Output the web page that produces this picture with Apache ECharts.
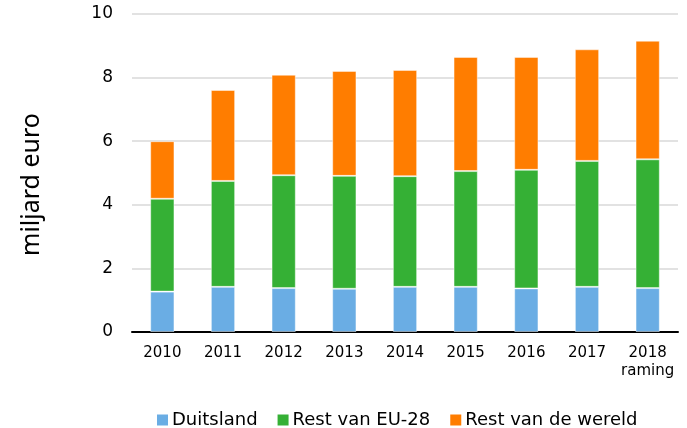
<!DOCTYPE html>
<html>
<head>
<meta charset="utf-8">
<script src="https://cdn.jsdelivr.net/npm/echarts@6/dist/echarts.min.js"></script>
<style>
  html, body { margin: 0; padding: 0; background: #fff; }
  #chart { width: 687px; height: 428px; }
</style>
</head>
<body>
<div id="chart"></div>
<script>
var categories = ['2010', '2011', '2012', '2013', '2014', '2015', '2016', '2017', '2018\nraming'];
var duitsland = [1.27, 1.42, 1.38, 1.36, 1.42, 1.42, 1.37, 1.42, 1.38];
var restEU = [2.92, 3.33, 3.55, 3.55, 3.48, 3.64, 3.73, 3.96, 4.05];
var restWereld = [1.81, 2.86, 3.16, 3.30, 3.34, 3.59, 3.55, 3.51, 3.73];
var yTicks = [0, 2, 4, 6, 8, 10];

var colors = ['#6aade4', '#35b035', '#ff7d00'];
var font = 'DejaVu Sans';

function barSeries(name, data) {
  return {
    name: name,
    type: 'bar',
    stack: 'totaal',
    barWidth: '40%',
    data: data,
    itemStyle: { borderColor: 'rgba(255,255,255,0.45)', borderWidth: 1 }
  };
}

var chart = echarts.init(document.getElementById('chart'));
chart.setOption({
  animation: false,
  color: colors,
  textStyle: { fontFamily: font },
  grid: { left: 132, right: 9, top: 14, bottom: 96 },
  legend: {
    left: 152,
    top: 406,
    itemWidth: 11,
    itemHeight: 11,
    itemGap: 20,
    itemStyle: { borderWidth: 0 },
    icon: 'rect',
    textStyle: { fontFamily: font, fontSize: 18, color: '#000', padding: [0, 0, 0, -1] },
    data: ['Duitsland', 'Rest van EU-28', 'Rest van de wereld']
  },
  xAxis: {
    type: 'category',
    data: categories,
    axisLine: { lineStyle: { color: '#000', width: 2 } },
    axisTick: { show: false },
    axisLabel: { interval: 0, color: '#000', fontSize: 15, lineHeight: 18, margin: 12, fontFamily: font }
  },
  yAxis: {
    type: 'value',
    min: yTicks[0],
    max: yTicks[yTicks.length - 1],
    interval: 2,
    name: 'miljard euro',
    nameLocation: 'middle',
    nameGap: 88,
    nameTextStyle: { fontFamily: 'Noto Sans', fontSize: 25, color: '#000', padding: [0, 23, 0, 0] },
    axisLine: { show: false },
    axisTick: { show: false },
    axisLabel: { color: '#000', fontSize: 17, margin: 19, fontFamily: font },
    splitLine: { lineStyle: { color: '#d9d9d9', width: 1.5 } }
  },
  series: [
    barSeries('Duitsland', duitsland),
    barSeries('Rest van EU-28', restEU),
    barSeries('Rest van de wereld', restWereld)
  ]
});
</script>
</body>
</html>
